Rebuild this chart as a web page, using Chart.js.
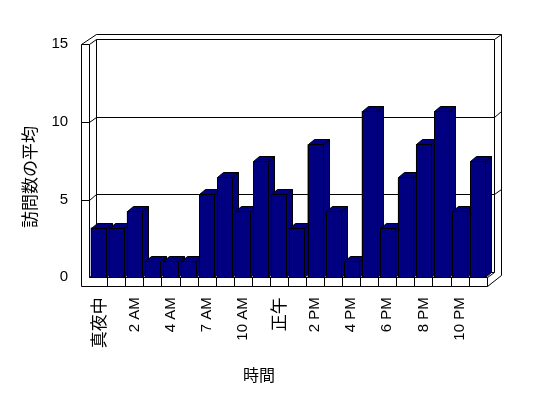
<!DOCTYPE html>
<html><head><meta charset="utf-8">
<script src="https://cdn.jsdelivr.net/npm/chart.js@4/dist/chart.umd.min.js"></script>
<style>html,body{margin:0;padding:0;background:#fff;}canvas{display:block;}</style>
</head><body>
<canvas id="c" width="548" height="398"></canvas>
<script>
// ---- data ----
const hours = ['真夜中','1 AM','2 AM','3 AM','4 AM','5 AM','7 AM','8 AM','10 AM','11 AM','正午','1 PM','2 PM','3 PM','4 PM','5 PM','6 PM','7 PM','8 PM','9 PM','10 PM','11 PM'];
const avgVisits = [3.2,3.2,4.27,1.05,1.05,1.05,5.35,6.43,4.27,7.48,5.35,3.2,8.55,4.27,1.05,10.7,3.2,6.43,8.55,10.7,4.27,7.48];
const yTicks = [0,5,10,15];
const yTitle = '訪問数の平均';
const xTitle = '時間';

const FONT_LATIN = "'Liberation Sans', Arial, sans-serif";
const FONT_CJK = "'Noto Sans CJK JP', sans-serif";
const isCJK = s => /[\u3000-\u9fff]/.test(s || '');

const frame3d = {
  id: 'frame3d',
  beforeDatasetsDraw(chart) {
    const {ctx, scales: {x: xs, y: ys}} = chart;
    const L = xs.left, R = xs.right;
    const y0 = ys.getPixelForValue(yTicks[0]);
    const yTop = ys.getPixelForValue(yTicks[yTicks.length - 1]);
    const dx = 7.2, dy = -5.3, slab = 8, floorT = 8.7;
    const yb = y0 + floorT;
    const P = v => Math.round(v) + 0.5;
    ctx.save();
    ctx.strokeStyle = '#000'; ctx.lineWidth = 1;
    const line = (...p) => {
      ctx.beginPath(); ctx.moveTo(P(p[0]), P(p[1]));
      for (let i = 2; i < p.length; i += 2) ctx.lineTo(P(p[i]), P(p[i + 1]));
      ctx.stroke();
    };
    // back wall inner face
    line(L + dx, yTop + dy, R + dx, yTop + dy, R + dx, y0 + dy, L + dx, y0 + dy, L + dx, yTop + dy);
    // back wall thickness (top + right)
    line(L - slab + 2 * dx, yTop + 2 * dy, R + 2 * dx, yTop + 2 * dy, R + 2 * dx, yb + 2 * dy);
    line(R + dx, yTop + dy, R + 2 * dx, yTop + 2 * dy);
    // left wall slab
    line(L - slab, yb, L - slab, yTop, L, yTop, L, y0);
    line(L - slab, yTop, L - slab + 2 * dx, yTop + 2 * dy);
    line(L, yTop, L + dx, yTop + dy);
    line(L, y0, L + dx, y0 + dy);
    // gridlines wrapping around walls
    for (const v of yTicks) {
      if (v === yTicks[0] || v === yTicks[yTicks.length - 1]) continue;
      const yy = ys.getPixelForValue(v);
      line(L - slab, yy, L, yy, L + dx, yy + dy, R + dx, yy + dy, R + 2 * dx, yy + 2 * dy);
    }
    // floor slab
    line(L, y0, R, y0, R, yb, L - slab, yb);
    line(R, y0, R + dx, y0 + dy);
    line(R, yb, R + 2 * dx, yb + 2 * dy);
    const n = hours.length, step = (R - L) / n;
    for (let i = 1; i < n; i++) { const xx = L + i * step; line(xx, y0, xx, yb); }
    ctx.restore();
  },
  afterDatasetsDraw(chart) {
    const {ctx} = chart;
    const meta = chart.getDatasetMeta(0);
    const bdx = 6, bdy = -5;
    ctx.save();
    ctx.fillStyle = '#000080'; ctx.strokeStyle = '#000'; ctx.lineWidth = 1; ctx.lineJoin = 'miter';
    const poly = pts => {
      ctx.beginPath(); ctx.moveTo(pts[0][0], pts[0][1]);
      for (let i = 1; i < pts.length; i++) ctx.lineTo(pts[i][0], pts[i][1]);
      ctx.closePath(); ctx.fill(); ctx.stroke();
    };
    meta.data.forEach(el => {
      const {x, y, base, width} = el.getProps(['x', 'y', 'base', 'width'], true);
      const l = Math.round(x - width / 2) + 0.5, r = Math.round(x + width / 2) + 0.5;
      const t = Math.round(y) + 0.5, b = Math.round(base) + 0.5;
      poly([[r, t], [r + bdx, t + bdy], [r + bdx, b + bdy], [r, b]]);
      poly([[l, t], [l + bdx, t + bdy], [r + bdx, t + bdy], [r, t]]);
      poly([[l, t], [r, t], [r, b], [l, b]]);
    });
    ctx.restore();
  },
  afterDraw(chart) {
    const {ctx} = chart;
    ctx.save();
    ctx.fillStyle = '#000';
    ctx.textAlign = 'center'; ctx.textBaseline = 'middle';
    ctx.font = "17px " + FONT_CJK;
    ctx.translate(30, 177);
    ctx.rotate(-Math.PI / 2);
    ctx.fillText(yTitle, 0, 0);
    ctx.restore();
    ctx.save();
    ctx.fillStyle = '#000';
    ctx.textAlign = 'center'; ctx.textBaseline = 'middle';
    ctx.font = "16px " + FONT_CJK;
    ctx.fillText(xTitle, 259, 375);
    ctx.restore();
  }
};

new Chart(document.getElementById('c'), {
  type: 'bar',
  data: {
    labels: hours,
    datasets: [{data: avgVisits, backgroundColor: '#000080', borderWidth: 0, barPercentage: 0.83, categoryPercentage: 1}]
  },
  options: {
    responsive: false, animation: false, devicePixelRatio: 1,
    layout: {padding: {left: 0, right: 61.3, top: 44.3, bottom: 0}},
    plugins: {legend: {display: false}, tooltip: {enabled: false}},
    scales: {
      x: {
        grid: {display: false, drawTicks: false}, border: {display: false},
        ticks: {
          autoSkip: false, minRotation: 90, maxRotation: 90, padding: 20, color: '#000',
          callback: (v, i) => (i % 2 === 0 ? hours[i] : ''),
          font: c => (isCJK(hours[c.index]) ? {family: FONT_CJK, size: 17} : {family: FONT_LATIN, size: 15})
        },
        afterFit: s => { s.height = 120.7; }
      },
      y: {
        min: 0, max: 15,
        grid: {display: false, drawTicks: false}, border: {display: false},
        afterBuildTicks: s => { s.ticks = yTicks.map(v => ({value: v})); },
        ticks: {padding: 21, color: '#000', font: {family: FONT_LATIN, size: 15}},
        afterFit: s => { s.width = 89.2; }
      }
    }
  },
  plugins: [frame3d]
});
</script>
</body></html>
